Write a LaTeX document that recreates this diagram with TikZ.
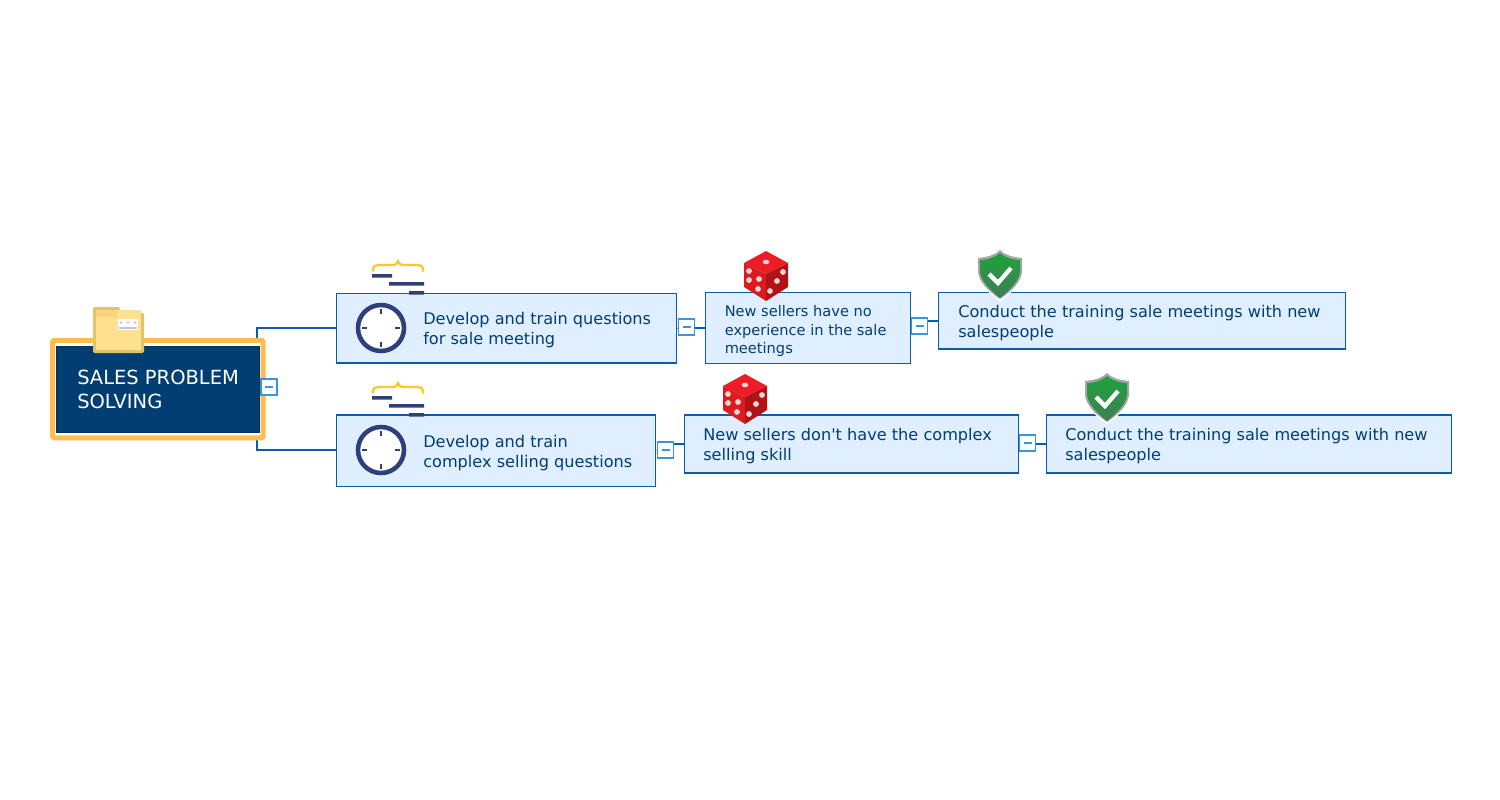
\documentclass[tikz,border=0pt]{standalone}
\usepackage{fontspec}
\setmainfont{DejaVu Sans}
\usetikzlibrary{backgrounds,calc}
\definecolor{navy}{HTML}{033E73}
\definecolor{edge}{HTML}{0B5CAD}
\definecolor{pale}{HTML}{DFEFFF}
\definecolor{txt}{HTML}{033E73}
\definecolor{tog}{HTML}{3A94DE}
\definecolor{clock}{HTML}{2F3F7A}
\definecolor{gold}{HTML}{FFC72C}
\definecolor{frameorange}{HTML}{FFBC50}
\definecolor{foldedge}{HTML}{E2C26A}
\definecolor{foldfill}{HTML}{FFE08F}
\definecolor{foldtab}{HTML}{F8D47C}
\definecolor{dietop}{HTML}{EE1C25}
\definecolor{dieleft}{HTML}{DC1A20}
\definecolor{dieright}{HTML}{B01216}
\definecolor{pip}{HTML}{F2D6D6}
\definecolor{shieldtop}{HTML}{1FA23C}
\definecolor{shieldbot}{HTML}{3E7F55}
\tikzset{
 x=0.75pt,y=-0.75pt,
 topic/.style={draw=edge,line width=1.2pt,fill=pale,inner sep=0pt,anchor=north west,text=txt},
 toggle/.style={draw=tog,line width=1.3pt,fill=white,minimum size=12pt,inner sep=0pt,text=tog},
 conn/.style={draw=edge,line width=1.1pt},
 lbl/.style={anchor=west,align=left,text=txt,font=\fontsize{12.1pt}{15pt}\selectfont,inner sep=0pt},
}
\newcommand{\topicbox}[5]{\node[topic,minimum width=#4*0.75pt,minimum height=#5*0.75pt] (#1) at (#2,#3) {};}
\newcommand{\togminus}[3]{\node[toggle] (#1) at (#2,#3) {}; \draw[tog,line width=1.2pt] ($(#1)+(-4,0)$) -- ($(#1)+(4,0)$);}
\newcommand{\clockicon}[2]{\begin{scope}[shift={(#1,#2)}]
 \draw[clock,fill=white,line width=3.4pt] (0,0) circle (23);
 \draw[clock,line width=1.5pt] (0,-19)--(0,-14) (0,19)--(0,14) (-19,0)--(-14,0) (19,0)--(14,0);
 \draw[gold,line width=1.7pt,line cap=round] (-8,-57) .. controls (-8,-62) and (-6,-63) .. (-3,-63) -- (12,-63) .. controls (15,-63) and (16,-64) .. (17,-67) .. controls (18,-64) and (19,-63) .. (22,-63) -- (37,-63) .. controls (40,-63) and (42,-62) .. (42,-57);
 \fill[clock] (-9,-54) rectangle (11,-50.5) (8,-46) rectangle (43,-42.5) (28,-37) rectangle (43,-33.5);
\end{scope}}
\newcommand{\diceicon}[2]{\begin{scope}[shift={(#1,#2)}]
 \fill[dietop] (0,-25)--(22,-13)--(0,-2)--(-22,-13)--cycle;
 \fill[dieleft] (-22,-13)--(0,-2)--(0,25)--(-22,11)--cycle;
 \fill[dieright] (22,-13)--(0,-2)--(0,25)--(22,11)--cycle;
 \fill[pip] (0,-14) ellipse (3.3 and 2.3);
 \foreach \p in {(-17,-5),(-17,4),(-7,3),(-8,13),(17,-4),(11,5),(4,15)} \fill[pip] \p circle (2.9);
\end{scope}}
\newcommand{\shieldicon}[2]{\begin{scope}[shift={(#1,#2)}]
 \fill[white] (0,-26) -- (-23,-18) -- (-23,-3) .. controls (-22,8) and (-12,18) .. (0,26) .. controls (12,18) and (22,8) .. (23,-3) -- (23,-18) -- cycle;
 \fill[gray!70] (0,-25) .. controls (-6,-19) and (-14,-18) .. (-22,-17) -- (-22,-3) .. controls (-21,7) and (-12,16) .. (0,24) .. controls (12,16) and (21,7) .. (22,-3) -- (22,-17) .. controls (14,-18) and (6,-19) .. (0,-25) -- cycle;
 \shade[top color=shieldtop,bottom color=shieldbot] (0,-22) .. controls (-6,-17) and (-14,-15) .. (-20,-15) -- (-20,-3) .. controls (-19,6) and (-10,15) .. (0,23) .. controls (10,15) and (19,6) .. (20,-3) -- (20,-15) .. controls (14,-15) and (6,-17) .. (0,-22) -- cycle;
 \draw[white,line width=3.2pt] (-11,-1)--(-2,8)--(11,-7);
\end{scope}}
\begin{document}
\begin{tikzpicture}
\useasboundingbox (0,0) rectangle (1500,800);
% root
\node[fill=white,anchor=north west,minimum width=210*0.75pt,minimum height=97*0.75pt,inner sep=0pt] (rootframe) at (52.7,340.3) {};
\draw[draw=frameorange,line width=3.75pt,rounded corners=1pt] (rootframe.north west) rectangle (rootframe.south east);
\node[fill=navy,draw=navy!80!black,line width=.5pt,anchor=north west,minimum width=203*0.75pt,minimum height=85.5*0.75pt,inner sep=0pt] (root) at (56.2,346) {};
\node[lbl,text=white,font=\fontsize{14.6pt}{17.4pt}\selectfont] (rootlbl) at (77,389.5) {SALES PROBLEM\\SOLVING};
% topics
\topicbox{b1}{335.7}{292.7}{339.8}{69.6}
\topicbox{b2}{335.7}{414}{319}{71.5}
\topicbox{c1}{704.7}{291.7}{204.8}{70.8}
\topicbox{c2}{683.7}{414}{333.8}{58.2}
\topicbox{d1}{937.7}{291.7}{406.8}{56.6}
\topicbox{d2}{1045.7}{414}{404.8}{58.2}
\node[lbl] (b1t) at (423,330.5) {Develop and train questions\\for sale meeting};
\node[lbl] (b2t) at (423,453) {Develop and train\\complex selling questions};
\node[lbl,font=\fontsize{10.95pt}{13.9pt}\selectfont] (c1t) at (724.5,331) {New sellers have no\\experience in the sale\\meetings};
\node[lbl] (c2t) at (703,446.5) {New sellers don\textquotesingle t have the complex\\selling skill};
\node[lbl] (d1t) at (958,323.5) {Conduct the training sale meetings with new\\salespeople};
\node[lbl] (d2t) at (1065,446.5) {Conduct the training sale meetings with new\\salespeople};
% icons
\clockicon{381}{328}
\clockicon{381}{450}
\diceicon{766}{276}
\diceicon{745}{399}
\shieldicon{1000}{275}
\shieldicon{1107}{398}
% folder
\begin{scope}[shift={(93,307)}]
 \fill[foldedge,rounded corners=1.5pt] (0,0) -- (27,0) -- (27,6) -- (51,6) -- (51,46) -- (0,46) -- cycle;
 \fill[foldfill] (3,3) rectangle (48,43);
 \fill[foldtab] (3,3) rectangle (24,10);
 \fill[white!93!foldfill] (25,12) rectangle (45,23);
 \foreach \q in {28,35,42} \fill[gray!35!blue!25!white] (\q,15.5) circle (1.7);
 \fill[gray!35!blue!30!white] (26,20) rectangle (44,21.5);
\end{scope}
% toggles
\togminus{t0}{269}{387}
\togminus{t1}{686.5}{327}
\togminus{t2}{919.5}{326}
\togminus{t3}{665.5}{450}
\togminus{t4}{1027.5}{443}
\begin{scope}[on background layer]
 \draw[conn] ($(root.north east)+(-3,0)$) |- ($(b1.west)+(0,-0.5)$);
 \draw[conn] ($(root.south east)+(-3,0)$) |- ($(b2.west)+(0,-0.5)$);
 \draw[conn] (b1.east) -- (t1);
 \draw[conn] (c1.west) -- (c1.west -| t1);
 \draw[conn] (c1.east |- t2) -- (t2);
 \draw[conn] (d1.west) -- (d1.west -| t2);
 \draw[conn] (b2.east) -- (t3);
 \draw[conn] (c2.west) -- (c2.west -| t3);
 \draw[conn] (c2.east) -- (t4);
 \draw[conn] (d2.west) -- (d2.west -| t4);
\end{scope}
\end{tikzpicture}
\end{document}
